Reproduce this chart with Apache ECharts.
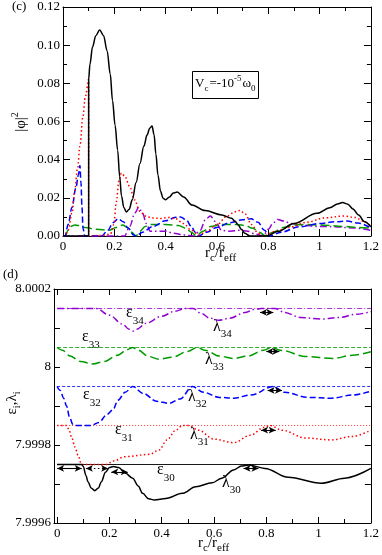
<!DOCTYPE html>
<html><head><meta charset="utf-8">
<script src="https://cdn.jsdelivr.net/npm/echarts@6/dist/echarts.min.js"></script>
<style>html,body{margin:0;padding:0;background:#fff}#c{width:382px;height:555px}</style>
</head><body><div id="c"></div>
<script>
// ---------- Panel (c): |phi|^2 vs r_c/r_eff ----------
const phi30 = [[0,0],[0.1,0],[0.1,0.082],[0.105,0.09],[0.115,0.099],[0.128,0.105],[0.143,0.108],[0.158,0.105],[0.172,0.097],[0.184,0.085],[0.193,0.071],[0.203,0.058],[0.213,0.045],[0.221,0.031],[0.228,0.021],[0.237,0.015],[0.247,0.0126],[0.258,0.014],[0.27,0.019],[0.285,0.028],[0.3,0.038],[0.315,0.047],[0.328,0.053],[0.338,0.0565],[0.347,0.0576],[0.355,0.053],[0.362,0.043],[0.37,0.032],[0.38,0.0235],[0.39,0.0198],[0.40,0.019],[0.415,0.0205],[0.43,0.0225],[0.445,0.023],[0.47,0.0205],[0.503,0.0162],[0.554,0.0133],[0.619,0.011],[0.657,0.0093],[0.672,0.0075],[0.683,0.0058],[0.695,0.0035],[0.709,0.0014],[0.728,0],[0.792,0],[0.837,0.0023],[0.9,0.0065],[0.99,0.0119],[1.04,0.0148],[1.07,0.0168],[1.09,0.0175],[1.11,0.0167],[1.13,0.0142],[1.152,0.011],[1.175,0.0075],[1.2,0.0049]];
const phi31 = [[0,0],[0.01,0.0008],[0.02,0.003],[0.035,0.012],[0.046,0.024],[0.057,0.036],[0.066,0.047],[0.077,0.062],[0.087,0.073],[0.1,0.082],[0.1,0],[0.15,0.0003],[0.185,0.001],[0.198,0.006],[0.208,0.018],[0.218,0.029],[0.228,0.033],[0.24,0.0315],[0.26,0.026],[0.278,0.019],[0.3,0.013],[0.32,0.0105],[0.347,0.0094],[0.38,0.0092],[0.41,0.0097],[0.44,0.009],[0.47,0.0065],[0.5,0.003],[0.53,0.0005],[0.56,0.0025],[0.6,0.006],[0.64,0.0105],[0.67,0.0127],[0.69,0.0134],[0.71,0.0115],[0.735,0.006],[0.76,0.0015],[0.78,0],[0.824,0.0023],[0.88,0.0045],[0.95,0.0072],[1.02,0.0095],[1.095,0.0105],[1.14,0.0097],[1.17,0.0078],[1.2,0.005]];
const phi32 = [[0,0],[0.008,0],[0.02,0.006],[0.035,0.015],[0.05,0.025],[0.06,0.032],[0.066,0.037],[0.07,0.028],[0.074,0.015],[0.078,0.004],[0.085,0],[0.15,0],[0.175,0.003],[0.195,0.007],[0.215,0.009],[0.235,0.0075],[0.255,0.004],[0.275,0.0005],[0.285,0],[0.31,0.002],[0.35,0.005],[0.4,0.008],[0.44,0.0098],[0.458,0.01],[0.48,0.0085],[0.5,0.005],[0.515,0.002],[0.528,0],[0.56,0.002],[0.6,0.0045],[0.65,0.007],[0.7,0.0085],[0.733,0.009],[0.76,0.0072],[0.785,0.003],[0.805,0],[0.85,0.002],[0.92,0.0048],[1.0,0.0065],[1.06,0.0075],[1.107,0.0078],[1.15,0.0068],[1.2,0.0042]];
const phi33 = [[0,0],[0.008,0],[0.02,0.003],[0.035,0.0053],[0.046,0.0058],[0.06,0.0055],[0.085,0.0045],[0.13,0.0035],[0.18,0.003],[0.207,0.0045],[0.233,0.0058],[0.25,0.0045],[0.268,0.002],[0.284,0],[0.3,0.0025],[0.32,0.005],[0.336,0.006],[0.4,0.006],[0.45,0.0055],[0.48,0.004],[0.5,0.002],[0.52,0],[0.545,0.0025],[0.575,0.005],[0.618,0.006],[0.68,0.006],[0.709,0.0055],[0.74,0.004],[0.765,0.002],[0.79,0],[0.82,0.002],[0.86,0.0045],[0.9,0.0057],[0.94,0.006],[1.0,0.0058],[1.095,0.005],[1.15,0.0045],[1.2,0.004]];
const phi34 = [[0,0],[0.24,0],[0.26,0.005],[0.28,0.012],[0.295,0.015],[0.31,0.012],[0.325,0.0065],[0.34,0.0025],[0.37,0.0025],[0.4,0.0025],[0.43,0.0015],[0.47,0.0005],[0.51,0],[0.535,0.003],[0.555,0.0085],[0.574,0.0105],[0.595,0.0075],[0.618,0.003],[0.65,0.0025],[0.69,0.003],[0.72,0.0025],[0.75,0.001],[0.78,0],[0.8,0.0035],[0.82,0.007],[0.837,0.0087],[0.86,0.0078],[0.89,0.0065],[0.927,0.0057],[1.0,0.005],[1.056,0.0049],[1.13,0.0042],[1.2,0.003]];

// ---------- Panel (d): eigenvalues ----------
const epsLevels = [7.99975, 7.99985, 7.99995, 8.00005, 8.00015]; // eps30..eps34
const lam30 = [[0,7.99975],[0.094,7.99975],[0.1,7.999745],[0.11,7.999722],[0.118,7.999706],[0.13,7.99969],[0.144,7.999683],[0.158,7.99969],[0.169,7.999706],[0.185,7.99973],[0.2,7.999742],[0.215,7.999745],[0.235,7.999742],[0.26,7.999728],[0.289,7.999715],[0.31,7.999695],[0.327,7.999676],[0.35,7.999662],[0.372,7.999659],[0.416,7.999663],[0.479,7.999676],[0.53,7.999693],[0.593,7.999703],[0.63,7.999715],[0.675,7.999736],[0.705,7.999746],[0.732,7.999749],[0.795,7.99974],[0.884,7.999717],[1.01,7.999702],[1.1,7.999715],[1.2,7.99974]];
const lam31 = [[0,7.99985],[0.036,7.99985],[0.045,7.99984],[0.055,7.999821],[0.068,7.999795],[0.08,7.999774],[0.093,7.99975],[0.188,7.99975],[0.205,7.999755],[0.22,7.99976],[0.258,7.99977],[0.353,7.999776],[0.39,7.999787],[0.42,7.999813],[0.454,7.999838],[0.479,7.99985],[0.504,7.99985],[0.54,7.999838],[0.6,7.999815],[0.675,7.999806],[0.74,7.999825],[0.79,7.999845],[0.814,7.99985],[0.86,7.999838],[0.95,7.999818],[1.048,7.999813],[1.13,7.999822],[1.2,7.999838]];
const lam32 = [[0,7.99995],[0.012,7.99994],[0.025,7.99992],[0.036,7.9999],[0.048,7.99987],[0.06,7.999853],[0.068,7.99985],[0.131,7.99985],[0.16,7.999858],[0.19,7.999878],[0.213,7.99989],[0.233,7.999915],[0.26,7.999935],[0.289,7.99995],[0.33,7.999932],[0.38,7.999912],[0.428,7.999907],[0.47,7.999918],[0.517,7.99995],[0.56,7.999935],[0.62,7.999922],[0.675,7.99992],[0.74,7.999928],[0.827,7.99995],[0.87,7.999935],[0.96,7.999922],[1.048,7.99992],[1.13,7.999928],[1.2,7.999938]];
const lam33 = [[0,8.00005],[0.02,8.000043],[0.05,8.000028],[0.09,8.000014],[0.137,8.000008],[0.18,8.000014],[0.23,8.00003],[0.27,8.000045],[0.289,8.00005],[0.31,8.000043],[0.35,8.000027],[0.39,8.00002],[0.44,8.000025],[0.5,8.00004],[0.536,8.00005],[0.57,8.000042],[0.62,8.000028],[0.675,8.000022],[0.73,8.000028],[0.79,8.000043],[0.82,8.00005],[0.86,8.000042],[0.95,8.000027],[1.055,8.000022],[1.13,8.00003],[1.2,8.000039]];
const lam34 = [[0,8.00015],[0.15,8.00015],[0.2,8.000133],[0.25,8.00011],[0.275,8.000097],[0.29,8.000092],[0.305,8.000097],[0.34,8.000112],[0.4,8.00013],[0.45,8.000143],[0.49,8.00015],[0.52,8.00015],[0.55,8.000138],[0.585,8.000125],[0.618,8.00012],[0.66,8.000125],[0.72,8.00014],[0.757,8.000148],[0.78,8.00015],[0.833,8.00015],[0.87,8.00014],[0.93,8.000127],[1.01,8.000123],[1.08,8.000127],[1.14,8.000135],[1.2,8.000142]];
// double arrows: [xStart, xEnd, y]
const arrowsSolid = [[0,0.094,7.99974],[0.207,0.27,7.999731],[0.713,0.77,7.99974],[0.78,0.836,7.999838],[0.805,0.86,7.99994],[0.8,0.85,8.00004],[0.776,0.827,8.00014]];
const arrowsDotted = [[0.11,0.195,7.99974]];

const xTicksMajor = [0,0.2,0.4,0.6,0.8,1.0,1.2];
const xTicksMinor = [0.1,0.3,0.5,0.7,0.9,1.1];

const FONT = '"Liberation Serif", "Times New Roman", Times, "DejaVu Serif", serif';
const chart = echarts.init(document.getElementById('c'), null, {renderer:'canvas'});

const fmtX = v => String(Math.round(v*10)/10);
const fmtYD = v => {
  const k = Math.round((v - 7.9996) * 1e4);
  if (k % 2) return '';
  return String(parseFloat(v.toFixed(4)));
};
const labStyle = {fontFamily: FONT, fontSize: 13, color: '#000'};
const blk = {color:'#000', width:1};

function xAxisTop(grid, pos, showLab) {
  return {gridIndex:grid, type:'value', position:pos, min:0, max:1.2, interval:0.2,
    axisLine:{show:true, onZero:false, lineStyle:blk},
    axisTick:{show:true, inside:true, length:7, lineStyle:blk},
    minorTick:{show:true, splitNumber:2, length:4, lineStyle:blk},
    splitLine:{show:false}, minorSplitLine:{show:false},
    axisLabel:Object.assign({show:showLab, margin:4, formatter:fmtX}, labStyle)};
}
function xAxisBot(grid, pos, showLab, minor) {
  const vals = minor ? xTicksMinor : xTicksMajor;
  return {gridIndex:grid, type:'value', position:pos, min:-0.012, max:1.2,
    axisLine:{show:!minor, onZero:false, lineStyle:blk},
    axisTick:{show:true, inside:true, length: minor ? 4 : 6, customValues: vals, lineStyle:blk},
    splitLine:{show:false},
    axisLabel:Object.assign({show:showLab, margin:4, customValues: vals, formatter:fmtX}, labStyle)};
}

const mctx = document.createElement('canvas').getContext('2d');
function tw(t, s) { mctx.font = s + 'px ' + FONT; return mctx.measureText(t).width; }
// parts: [text, size, dyBaseline, dxExtra]
function rt(parts, x, yb, opts) {
  opts = opts || {};
  let cx = 0; const ch = [];
  parts.forEach(p => {
    const t = p[0], s = p[1], dy = p[2] || 0, dx = p[3] || 0;
    cx += dx;
    ch.push({type:'text', x:cx, y: dy - 0.3375 * s,
      style:{text:t, font: s + 'px ' + FONT, fontSize:s, fontFamily:FONT, fill:'#000', align:'left', verticalAlign:'middle'}});
    cx += tw(t, s);
  });
  if (opts.center) ch.forEach(c => c.x -= cx / 2);
  const g = {type:'group', x:x, y:yb, children:ch};
  if (opts.rotate) g.rotation = Math.PI / 2;
  return g;
}

const lineBase = {type:'line', showSymbol:false, symbol:'none', smooth:0.35, smoothMonotone:'x', animation:false, silent:true};
function S(data, xi, yi, color, width, dash, extra) {
  return Object.assign({}, lineBase, {data:data, xAxisIndex:xi, yAxisIndex:yi,
    lineStyle:{color:color, width:width, type:dash}}, extra || {});
}
const RED = '#ff0000', BLUE = '#0000ff', GREEN = '#009a00', PURP = '#9400d3';

const series = [
  S(phi34, 0, 0, PURP, 1.5, [7,3,1.5,3]),
  S(phi33, 0, 0, GREEN, 1.5, [9,4]),
  S(phi32, 0, 0, BLUE, 1.5, [6,3]),
  S(phi31, 0, 0, RED, 1.5, [1.5,2.5]),
  S(phi30, 0, 0, '#000', 1.5, 'solid'),
  // eps reference levels
  S([[0,epsLevels[4]],[1.2,epsLevels[4]]], 2, 2, PURP, 0.8, [5,2,1,2], {smooth:false}),
  S([[0,epsLevels[3]],[1.2,epsLevels[3]]], 2, 2, GREEN, 0.8, [4,2], {smooth:false}),
  S([[0,epsLevels[2]],[1.2,epsLevels[2]]], 2, 2, BLUE, 0.8, [3,2], {smooth:false}),
  S([[0,epsLevels[1]],[1.2,epsLevels[1]]], 2, 2, RED, 0.8, [1,2], {smooth:false}),
  S([[0,epsLevels[0]],[1.2,epsLevels[0]]], 2, 2, '#000', 0.9, 'solid', {smooth:false}),
  S(lam34, 2, 2, PURP, 1.5, [7,3,1.5,3]),
  S(lam33, 2, 2, GREEN, 1.5, [9,4]),
  S(lam32, 2, 2, BLUE, 1.5, [6,3]),
  S(lam31, 2, 2, RED, 1.5, [1.5,2.5]),
  S(lam30, 2, 2, '#000', 1.5, 'solid', {
    markLine:{silent:true, animation:false, symbol:['arrow','arrow'], symbolSize:[5,7], label:{show:false},
      lineStyle:{color:'#000', width:1.1, type:'solid'},
      emphasis:{disabled:true},
      data: arrowsSolid.map(a => [{coord:[a[0],a[2]]},{coord:[a[1],a[2]]}]).concat(
        arrowsDotted.map(a => [{coord:[a[0],a[2]], lineStyle:{type:[1.5,2.5]}},{coord:[a[1],a[2]]}]))}
  })
];

const graphics = [
  rt([['(c)',13]], 12, 11),
  rt([['(d)',13]], 3, 279),
  {type:'rect', shape:{x:192.5, y:71.5, width:66, height:27}, style:{fill:'#fff', stroke:'#000', lineWidth:1}},
  rt([['V',13],['c',9,4],['=-10',13,0,1],['-5',9,-6],['ω',13,0,1],['0',9,4]], 195, 88),
  rt([['|φ|',15],['2',10,-7]], 26, 122, {rotate:true, center:true}),
  rt([['ε',15],['i',10,4],[',',15],['λ',15],['i',10,4]], 17, 403, {rotate:true, center:true}),
  rt([['r',15],['c',11,4],['/',15],['r',15],['eff',11,4]], 205, 258),
  rt([['r',15],['c',11,4],['/',15],['r',15],['eff',11,4]], 198, 548),
  rt([['ε',16],['34',11,7]], 126, 318),
  rt([['ε',16],['33',11,7]], 82, 342),
  rt([['ε',16],['32',11,7]], 83, 400),
  rt([['ε',16],['31',11,7]], 115, 435),
  rt([['ε',16],['30',11,7]], 157, 475),
  rt([['λ',16],['34',11,6]], 213, 332),
  rt([['λ',16],['33',11,6]], 205, 365),
  rt([['λ',16],['32',11,6]], 188, 402),
  rt([['λ',16],['31',11,6]], 190, 440),
  rt([['λ',16],['30',11,6]], 222, 488)
];

chart.setOption({
  animation:false,
  backgroundColor:'#fff',
  grid:[{left:63, top:7, right:8, bottom:319}, {left:54, top:289, right:9, bottom:32}],
  xAxis:[xAxisTop(0,'bottom',true), xAxisTop(0,'top',false),
         xAxisBot(1,'bottom',true,false), xAxisBot(1,'top',false,false),
         xAxisBot(1,'bottom',false,true), xAxisBot(1,'top',false,true)],
  yAxis:[
    {gridIndex:0, type:'value', position:'left', min:0, max:0.12, interval:0.02,
     axisLine:{show:true, onZero:false, lineStyle:blk}, axisTick:{inside:true, length:7, lineStyle:blk},
     minorTick:{show:true, splitNumber:2, length:4, lineStyle:blk}, splitLine:{show:false},
     axisLabel:Object.assign({margin:3, formatter: v => v.toFixed(2)}, labStyle)},
    {gridIndex:0, type:'value', position:'right', min:0, max:0.12, interval:0.02,
     axisLine:{show:true, onZero:false, lineStyle:blk}, axisTick:{inside:true, length:7, lineStyle:blk},
     minorTick:{show:true, splitNumber:2, length:4, lineStyle:blk}, splitLine:{show:false},
     axisLabel:{show:false}},
    {gridIndex:1, type:'value', position:'left', min:7.9996, max:8.0002, interval:0.0001,
     axisLine:{show:true, onZero:false, lineStyle:blk}, axisTick:{inside:true, length:6, lineStyle:blk},
     splitLine:{show:false}, axisLabel:Object.assign({margin:3, formatter: fmtYD}, labStyle)},
    {gridIndex:1, type:'value', position:'right', min:7.9996, max:8.0002, interval:0.0001,
     axisLine:{show:true, onZero:false, lineStyle:blk}, axisTick:{inside:true, length:6, lineStyle:blk},
     splitLine:{show:false}, axisLabel:{show:false}}
  ],
  series: series,
  graphic: graphics
});
</script>
</body></html>
